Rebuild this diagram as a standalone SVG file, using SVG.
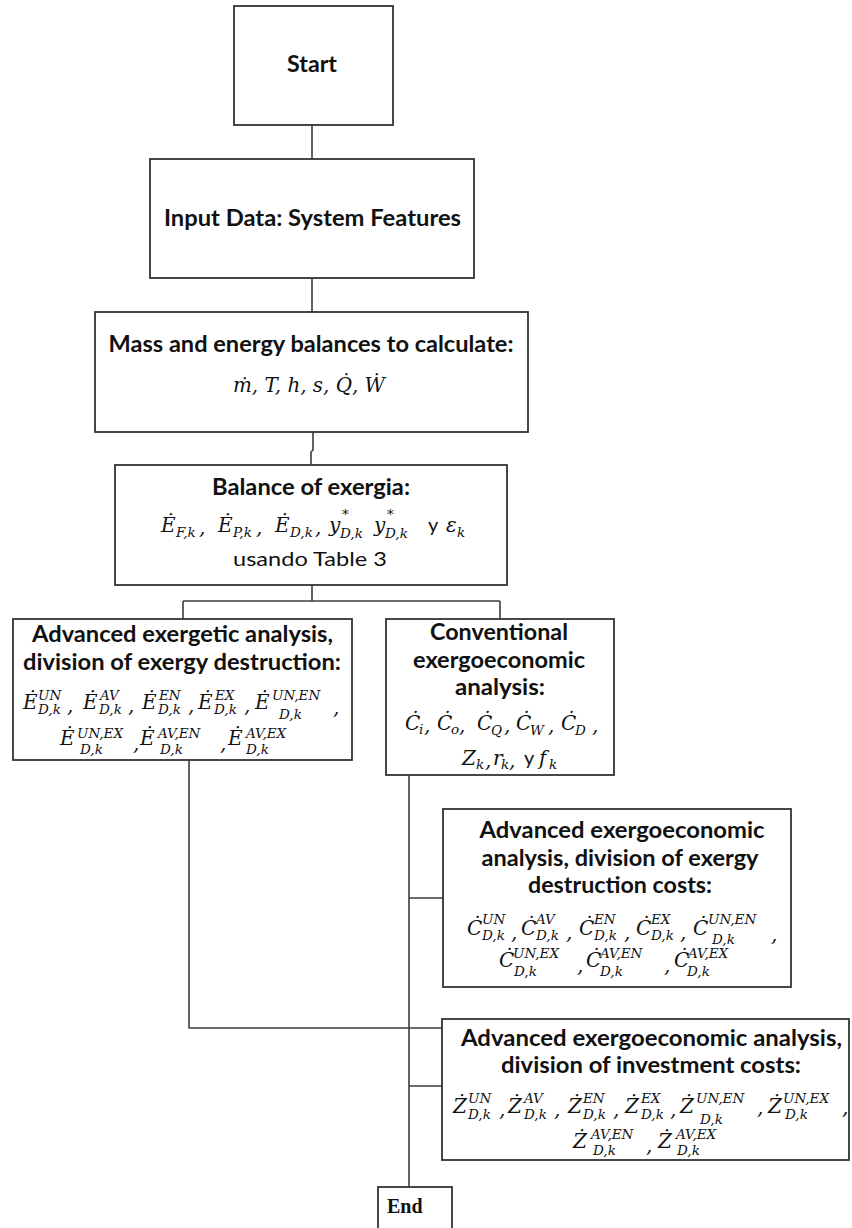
<svg xmlns="http://www.w3.org/2000/svg" width="852" height="1228" viewBox="0 0 852 1228">
<style>
.box{fill:#fff;stroke:#333;stroke-width:1.8}
.conn{fill:none;stroke:#3c3c3c;stroke-width:1.6}
.t{font-family:Lato,"Liberation Sans",sans-serif;font-weight:700;font-size:22px;fill:#111;text-anchor:middle}
.r{font-family:Lato,"Liberation Sans",sans-serif;font-size:20px;fill:#111}
.m{font-family:"DejaVu Serif","Liberation Serif",serif;font-style:italic;font-size:20px;fill:#111}
.s{font-family:"DejaVu Serif","Liberation Serif",serif;font-style:italic;font-size:13.5px;fill:#111}
.e{font-family:"Liberation Serif",serif;font-weight:700;font-size:20px;fill:#111}
</style>
<rect width="852" height="1228" fill="#fff"/>
<g id="connectors">
<path class="conn" d="M312,125 V159"/>
<path class="conn" d="M312,278 V312"/>
<path class="conn" d="M313,432 V450 L311,452 V465"/>
<path class="conn" d="M312,585 V601 M183,601 H500 M183,601 V619 M500,601 V619"/>
<path class="conn" d="M189,760 V1028 H442"/>
<path class="conn" d="M409,775 V1187 M409,898 H443 M409,1086 H442"/>
</g>
<g id="start">
<rect class="box" x="234" y="6" width="159" height="119"/>
<text class="t" x="312" y="72" textLength="50" lengthAdjust="spacingAndGlyphs">Start</text>
</g>
<g id="input">
<rect class="box" x="150" y="159" width="324" height="119"/>
<text class="t" x="312.5" y="226" textLength="297" lengthAdjust="spacingAndGlyphs">Input Data: System Features</text>
</g>
<g id="mass">
<rect class="box" x="95" y="312" width="433" height="120"/>
<text class="t" x="311" y="352" textLength="405" lengthAdjust="spacingAndGlyphs">Mass and energy balances to calculate:</text>
<text class="m" x="233" y="392" textLength="152" lengthAdjust="spacingAndGlyphs">ṁ, T, h, s, Q̇, Ẇ</text>
</g>
<g id="balance">
<rect class="box" x="115" y="465" width="392" height="120"/>
<text class="t" x="311" y="495" textLength="198" lengthAdjust="spacingAndGlyphs">Balance of exergia:</text>
<text class="m" x="161" y="532">Ė</text><text class="s" x="176" y="537">F,k</text><text class="m" x="199" y="534">,</text>
<text class="m" x="218" y="532">Ė</text><text class="s" x="233" y="537">P,k</text><text class="m" x="256" y="534">,</text>
<text class="m" x="275" y="532">Ė</text><text class="s" x="290" y="537">D,k</text><text class="m" x="315" y="534">,</text>
<text class="m" x="329" y="532">y</text><text class="s" x="342" y="519">*</text><text class="s" x="340" y="538">D,k</text>
<text class="m" x="374" y="532">y</text><text class="s" x="387" y="519">*</text><text class="s" x="385" y="538">D,k</text>
<text class="r" x="428" y="532">y</text>
<text class="m" x="446" y="532">ε</text><text class="s" x="457" y="537">k</text>
<text class="r" x="310" y="566" text-anchor="middle" textLength="154" lengthAdjust="spacingAndGlyphs">usando Table 3</text>
</g>
<g id="advanced-exergetic">
<rect class="box" x="13" y="619" width="339" height="141"/>
<text class="t" x="182.5" y="642" textLength="301" lengthAdjust="spacingAndGlyphs">Advanced exergetic analysis,</text>
<text class="t" x="182" y="670" textLength="318" lengthAdjust="spacingAndGlyphs">division of exergy destruction:</text>
<text class="m" x="23" y="709">Ė</text><text class="s" x="38" y="700">UN</text><text class="s" x="38" y="714">D,k</text><text class="m" x="67" y="712">,</text>
<text class="m" x="83" y="709">Ė</text><text class="s" x="100" y="700">AV</text><text class="s" x="99" y="714">D,k</text><text class="m" x="128" y="712">,</text>
<text class="m" x="142" y="709">Ė</text><text class="s" x="159" y="700">EN</text><text class="s" x="158" y="714">D,k</text><text class="m" x="188" y="712">,</text>
<text class="m" x="198" y="709">Ė</text><text class="s" x="215" y="700">EX</text><text class="s" x="214" y="714">D,k</text><text class="m" x="244" y="712">,</text>
<text class="m" x="255" y="709">Ė</text><text class="s" x="272" y="700">UN,EN</text><text class="s" x="279" y="719">D,k</text><text class="m" x="333" y="714">,</text>
<text class="m" x="60" y="745">Ė</text><text class="s" x="77" y="738">UN,EX</text><text class="s" x="80" y="754">D,k</text><text class="m" x="133" y="750">,</text>
<text class="m" x="140" y="745">Ė</text><text class="s" x="158" y="738">AV,EN</text><text class="s" x="160" y="754">D,k</text><text class="m" x="220" y="750">,</text>
<text class="m" x="228" y="745">Ė</text><text class="s" x="246" y="738">AV,EX</text><text class="s" x="246" y="754">D,k</text>
</g>
<g id="conventional">
<rect class="box" x="386" y="619" width="228" height="156"/>
<text class="t" x="499" y="640" textLength="138" lengthAdjust="spacingAndGlyphs">Conventional</text>
<text class="t" x="499" y="668" textLength="172" lengthAdjust="spacingAndGlyphs">exergoeconomic</text>
<text class="t" x="500" y="695" textLength="90" lengthAdjust="spacingAndGlyphs">analysis:</text>
<text class="m" x="405" y="730">Ċ</text><text class="s" x="419" y="734">i</text><text class="m" x="424" y="732">,</text>
<text class="m" x="437" y="730">Ċ</text><text class="s" x="451" y="734">o</text><text class="m" x="459" y="732">,</text>
<text class="m" x="477" y="730">Ċ</text><text class="s" x="491" y="735">Q</text><text class="m" x="504" y="732">,</text>
<text class="m" x="516" y="730">Ċ</text><text class="s" x="530" y="735">W</text><text class="m" x="548" y="732">,</text>
<text class="m" x="561" y="730">Ċ</text><text class="s" x="575" y="735">D</text><text class="m" x="592" y="732">,</text>
<text class="m" x="462" y="765">Z</text><text class="s" x="476" y="769">k</text><text class="m" x="485" y="767">,</text>
<text class="m" x="493" y="765">r</text><text class="s" x="501" y="769">k</text><text class="m" x="509" y="767">,</text>
<text class="r" x="524" y="765">y</text>
<text class="m" x="539" y="765">f</text><text class="s" x="549" y="769">k</text>
</g>
<g id="advanced-exergoeconomic-destruction">
<rect class="box" x="443" y="809" width="348" height="178"/>
<text class="t" x="622" y="838" textLength="285" lengthAdjust="spacingAndGlyphs">Advanced exergoeconomic</text>
<text class="t" x="620" y="866" textLength="277" lengthAdjust="spacingAndGlyphs">analysis, division of exergy</text>
<text class="t" x="620" y="893" textLength="184" lengthAdjust="spacingAndGlyphs">destruction costs:</text>
<text class="m" x="467" y="935">Ċ</text><text class="s" x="482" y="924">UN</text><text class="s" x="482" y="940">D,k</text><text class="m" x="511" y="939">,</text>
<text class="m" x="521" y="935">Ċ</text><text class="s" x="536" y="924">AV</text><text class="s" x="536" y="940">D,k</text><text class="m" x="566" y="939">,</text>
<text class="m" x="579" y="935">Ċ</text><text class="s" x="594" y="924">EN</text><text class="s" x="594" y="940">D,k</text><text class="m" x="624" y="939">,</text>
<text class="m" x="636" y="935">Ċ</text><text class="s" x="651" y="924">EX</text><text class="s" x="651" y="940">D,k</text><text class="m" x="680" y="939">,</text>
<text class="m" x="693" y="935">Ċ</text><text class="s" x="708" y="924">UN,EN</text><text class="s" x="712" y="944">D,k</text><text class="m" x="771" y="941">,</text>
<text class="m" x="499" y="967">Ċ</text><text class="s" x="513" y="958">UN,EX</text><text class="s" x="514" y="976">D,k</text><text class="m" x="577" y="972">,</text>
<text class="m" x="586" y="967">Ċ</text><text class="s" x="600" y="958">AV,EN</text><text class="s" x="600" y="976">D,k</text><text class="m" x="664" y="972">,</text>
<text class="m" x="674" y="967">Ċ</text><text class="s" x="688" y="958">AV,EX</text><text class="s" x="687" y="976">D,k</text>
</g>
<g id="advanced-exergoeconomic-investment">
<rect class="box" x="442" y="1019" width="407" height="141"/>
<text class="t" x="651.5" y="1046" textLength="381" lengthAdjust="spacingAndGlyphs">Advanced exergoeconomic analysis,</text>
<text class="t" x="651" y="1073" textLength="300" lengthAdjust="spacingAndGlyphs">division of investment costs:</text>
<text class="m" x="453" y="1113">Ż</text><text class="s" x="468" y="1103">UN</text><text class="s" x="468" y="1119">D,k</text><text class="m" x="499" y="1116">,</text>
<text class="m" x="508" y="1113">Ż</text><text class="s" x="524" y="1103">AV</text><text class="s" x="524" y="1119">D,k</text><text class="m" x="554" y="1116">,</text>
<text class="m" x="568" y="1113">Ż</text><text class="s" x="583" y="1103">EN</text><text class="s" x="583" y="1119">D,k</text><text class="m" x="613" y="1116">,</text>
<text class="m" x="625" y="1113">Ż</text><text class="s" x="641" y="1103">EX</text><text class="s" x="641" y="1119">D,k</text><text class="m" x="670" y="1116">,</text>
<text class="m" x="680" y="1113">Ż</text><text class="s" x="696" y="1103">UN,EN</text><text class="s" x="700" y="1124">D,k</text><text class="m" x="757" y="1114">,</text>
<text class="m" x="768" y="1113">Ż</text><text class="s" x="783" y="1103">UN,EX</text><text class="s" x="785" y="1119">D,k</text><text class="m" x="842" y="1114">,</text>
<text class="m" x="573" y="1148">Ż</text><text class="s" x="591" y="1139">AV,EN</text><text class="s" x="593" y="1155">D,k</text><text class="m" x="646" y="1152">,</text>
<text class="m" x="658" y="1148">Ż</text><text class="s" x="676" y="1139">AV,EX</text><text class="s" x="677" y="1155">D,k</text>
</g>
<g id="end">
<rect class="box" x="378" y="1187" width="74" height="60"/>
<text class="e" x="387" y="1213">End</text>
</g>
</svg>
